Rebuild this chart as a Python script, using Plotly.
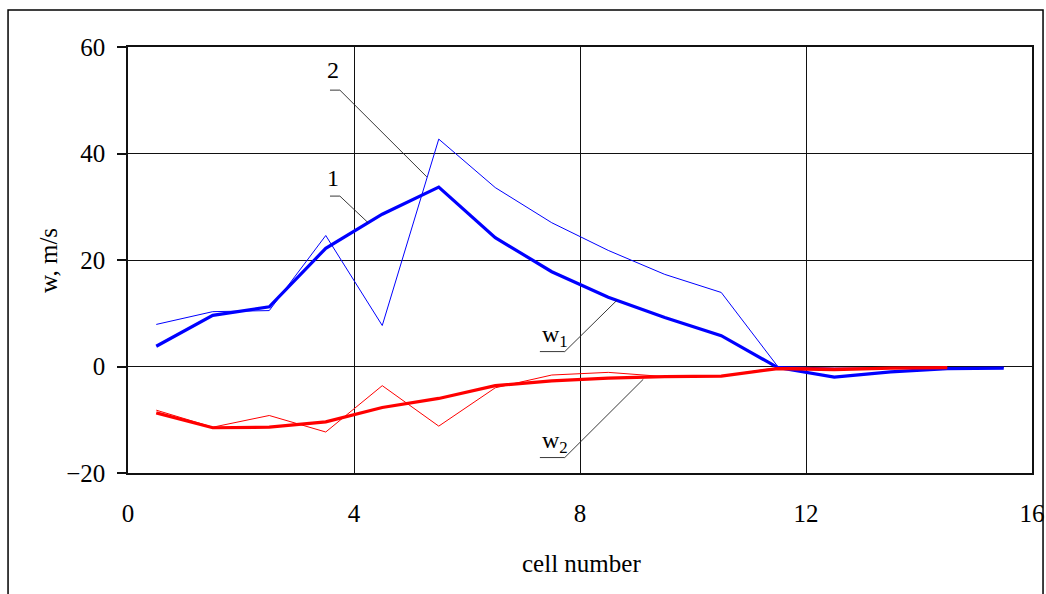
import plotly.graph_objects as go

cells = [0.5, 1.5, 2.5, 3.5, 4.5, 5.5, 6.5, 7.5, 8.5, 9.5, 10.5, 11.5, 12.5, 13.5, 14.5, 15.5]
w1_variant1 = [3.8, 9.6, 11.2, 22.2, 28.6, 33.7, 24.2, 17.8, 13.0, 9.2, 5.8, -0.2, -2.0, -1.0, -0.4, -0.3]
w1_variant2 = [7.9, 10.3, 10.5, 24.6, 7.7, 42.7, 33.6, 27.0, 21.8, 17.3, 13.9, 0.0, -0.3, -0.3, -0.2, -0.2]
w2_variant1 = [-8.7, -11.5, -11.4, -10.4, -7.7, -6.0, -3.6, -2.7, -2.2, -1.9, -1.8, -0.4, -0.6, -0.3, -0.2]
w2_variant2 = [-8.2, -11.4, -9.2, -12.3, -3.6, -11.2, -4.0, -1.6, -1.1, -1.9, -1.8, -0.2, -0.3, -0.2, -0.2]

x_ticks = [0, 4, 8, 12, 16]
y_ticks = [-20, 0, 20, 40, 60]

FONT = "Liberation Serif"

fig = go.Figure()
fig.add_trace(go.Scatter(x=cells, y=w1_variant2, mode="lines",
                         line=dict(color="#0000FF", width=1), showlegend=False))
fig.add_trace(go.Scatter(x=cells, y=w1_variant1, mode="lines",
                         line=dict(color="#0000FF", width=3.2), showlegend=False))
fig.add_trace(go.Scatter(x=cells[:len(w2_variant2)], y=w2_variant2, mode="lines",
                         line=dict(color="#FF0000", width=1), showlegend=False))
fig.add_trace(go.Scatter(x=cells[:len(w2_variant1)], y=w2_variant1, mode="lines",
                         line=dict(color="#FF0000", width=3.2), showlegend=False))

leader = dict(color="#222222", width=0.9)
shapes = []
for (x0, y0, x1, y1, x2, y2) in [
    (3.575, 51.9, 3.75, 51.9, 5.29, 35.6),   # 2
    (3.575, 32.0, 3.75, 32.0, 4.25, 27.0),   # 1
    (7.29, 2.8, 7.73, 2.8, 8.65, 12.4),      # w1
    (7.29, -17.1, 7.73, -17.1, 9.12, -2.4),  # w2
]:
    shapes.append(dict(type="line", xref="x", yref="y", x0=x0, y0=y0, x1=x1, y1=y1, line=leader, layer="above"))
    shapes.append(dict(type="line", xref="x", yref="y", x0=x1, y0=y1, x1=x2, y1=y2, line=leader, layer="above"))

shapes.append(dict(type="rect", xref="paper", yref="paper",
                   x0=-0.1327, x1=1.0122, y0=-0.35, y1=1.0869,
                   line=dict(color="black", width=1.5), layer="below"))

annotations = [
    dict(x=3.63, y=55.6, xref="x", yref="y", text="2", showarrow=False,
         font=dict(family=FONT, size=24, color="black")),
    dict(x=3.63, y=35.4, xref="x", yref="y", text="1", showarrow=False,
         font=dict(family=FONT, size=24, color="black")),
    dict(x=7.29, y=2.6, xref="x", yref="y", text="w<sub>1</sub>", showarrow=False,
         xanchor="left", yanchor="bottom",
         font=dict(family=FONT, size=24, color="black")),
    dict(x=7.29, y=-17.3, xref="x", yref="y", text="w<sub>2</sub>", showarrow=False,
         xanchor="left", yanchor="bottom",
         font=dict(family=FONT, size=24, color="black")),
    dict(x=(48 - 128) / 904, y=(473 - 261) / 426, xref="paper", yref="paper", text="w, m/s",
         showarrow=False, textangle=-90, xanchor="center", yanchor="middle",
         font=dict(family=FONT, size=25, color="black")),
    dict(x=(581 - 128) / 904, y=(473 - 563) / 426, xref="paper", yref="paper", text="cell number",
         showarrow=False, xanchor="center", yanchor="middle",
         font=dict(family=FONT, size=25, color="black")),
]

fig.update_layout(
    height=594, autosize=True,
    margin=dict(l=128, r=14, t=47, b=121, autoexpand=False),
    paper_bgcolor="white", plot_bgcolor="white",
    font=dict(family=FONT, size=25, color="black"),
    shapes=shapes, annotations=annotations,
    showlegend=False,
)
fig.update_xaxes(range=[0, 16], tickvals=x_ticks, showgrid=True, gridcolor="#111111", gridwidth=1.2,
                 showline=True, linecolor="#111111", linewidth=1.5, mirror=True, automargin=False,
                 zeroline=False, ticks="", ticklabelstandoff=17,
                 tickfont=dict(family=FONT, size=25, color="black"))
fig.update_yaxes(range=[-20, 60], tickvals=y_ticks, showgrid=True, gridcolor="#111111", gridwidth=1.2,
                 showline=True, linecolor="#111111", linewidth=1.5, mirror=True, automargin=False,
                 zeroline=False, ticks="outside", ticklen=9, tickcolor="#111111", tickwidth=1.5,
                 ticklabelstandoff=7,
                 tickfont=dict(family=FONT, size=25, color="black"))

fig.write_html(
    "out.html",
    config={"displayModeBar": False, "responsive": True},
    default_width="100%",
    post_script="document.body.style.margin='0px';document.body.style.overflow='hidden';"
                "Plotly.Plots.resize(document.getElementById('{plot_id}'));",
)
